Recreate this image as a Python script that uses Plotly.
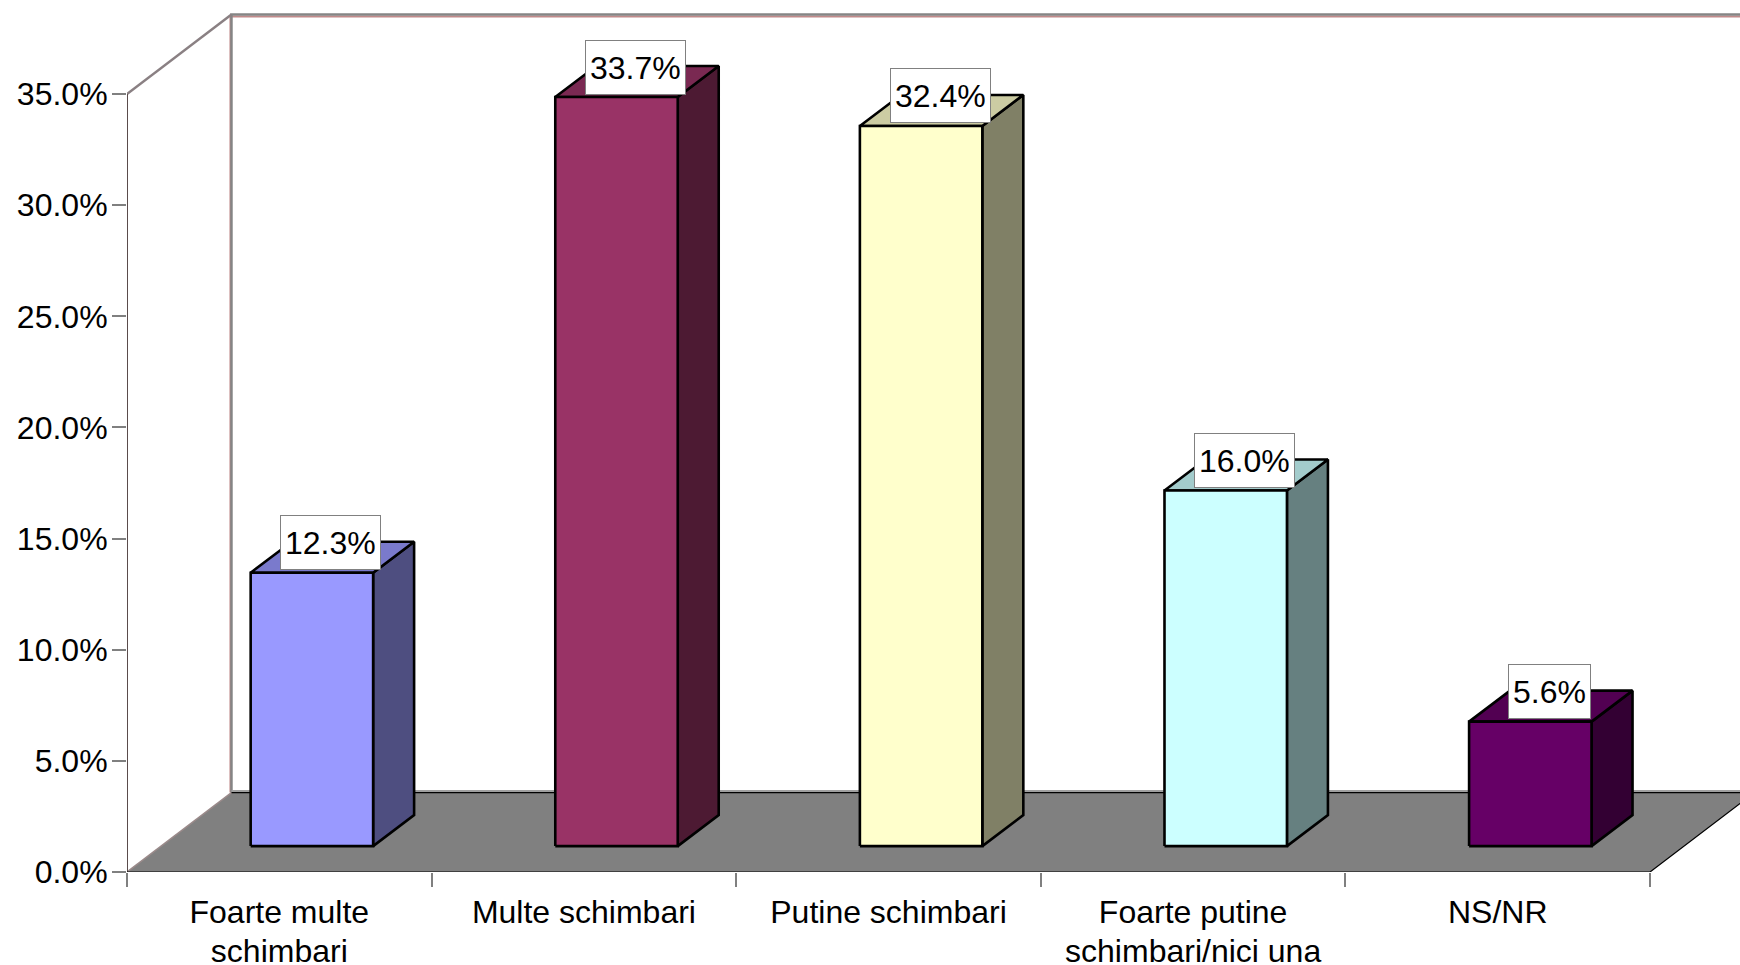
import plotly.graph_objects as go

categories = ["Foarte multe", "Multe schimbari", "Putine schimbari", "Foarte putine", "NS/NR"]
categories_line2 = ["schimbari", "", "", "schimbari/nici una", ""]
values = [12.3, 33.7, 32.4, 16.0, 5.6]
labels = ["12.3%", "33.7%", "32.4%", "16.0%", "5.6%"]
front_colors = ["#9999FF", "#993366", "#FFFFCC", "#CCFFFF", "#660066"]
side_colors = ["#4E4E80", "#4D1A33", "#808066", "#668080", "#330033"]
top_colors = ["#7A7ACC", "#7A2952", "#CCCCA3", "#A3CCCC", "#520052"]
y_ticks = [0, 5, 10, 15, 20, 25, 30, 35]
y_ticktext = ["0.0%", "5.0%", "10.0%", "15.0%", "20.0%", "25.0%", "30.0%", "35.0%"]

W, H = 1740, 965
X0, Y0 = 126.5, 872.5      # pixel of axis origin
CAT_PX, PCT_PX = 304.7, 22.24
DX, DY = 104.5 / CAT_PX, 79.5 / PCT_PX   # chart depth in axis units
BAR_L, BAR_W = 0.406, 0.402
BAR_BASE = 1.165
BAR_DX, BAR_DY = 41 / CAT_PX, 31 / PCT_PX
N = len(categories)
YMAX = 35


def poly(xs, ys, fill=None, line="black", width=1.0):
    return go.Scatter(x=xs, y=ys, mode="lines", cliponaxis=False,
                      fill="toself" if fill else None, fillcolor=fill,
                      line=dict(color=line, width=width), hoverinfo="skip",
                      showlegend=False)


fig = go.Figure()

# floor
fig.add_trace(poly([0, N, N + DX, DX, 0], [0, 0, DY, DY, 0], fill="#808080", line="rgba(0,0,0,0)", width=0))
# walls: pink underlay, gray over
px_y = 1 / PCT_PX
px_x = 1 / CAT_PX
fig.add_trace(poly([DX - px_x, DX - px_x, N + 2], [DY, YMAX + DY - 2 * px_y, YMAX + DY - 2 * px_y], line="#C08A8A", width=2))
fig.add_trace(poly([DX, DX, N + 2], [DY, YMAX + DY, YMAX + DY], line="#858585", width=2.5))
fig.add_trace(poly([DX, 0], [YMAX + DY, YMAX], line="#8A8083", width=2.5))
fig.add_trace(poly([DX, 0], [DY, 0], line="#9A8A8A", width=1.5))
fig.add_trace(poly([0, 0], [0, YMAX], line="#5A4C4C", width=2))
# floor edges
fig.add_trace(poly([DX, N + 2], [DY + 1.5 * px_y, DY + 1.5 * px_y], line="#A0A0A0", width=2))
fig.add_trace(poly([DX, N + 2], [DY, DY], line="black", width=1.2))
fig.add_trace(poly([0, N, N + DX], [0, 0, DY], line="black", width=1.2))

# bars
for i, v in enumerate(values):
    l = i + BAR_L
    r = l + BAR_W
    b = BAR_BASE
    t = b + v
    fig.add_trace(poly([r, r + BAR_DX, r + BAR_DX, r, r], [b, b + BAR_DY, t + BAR_DY, t, b], fill=side_colors[i], width=2.6))
    fig.add_trace(poly([l, l + BAR_DX, r + BAR_DX, r, l], [t, t + BAR_DY, t + BAR_DY, t, t], fill=top_colors[i], width=2.6))
    fig.add_trace(poly([l, r, r, l, l], [b, b, t, t, b], fill=front_colors[i], width=2.6))

# keeps the second label axis alive
fig.add_trace(go.Scatter(x=[0], y=[0], xaxis="x2", mode="lines", hoverinfo="skip", showlegend=False))

# value labels
for i, v in enumerate(values):
    fig.add_annotation(x=i + BAR_L + BAR_W / 2 + 19 * px_x, y=BAR_BASE + v + 30 * px_y,
                       xref="x", yref="y", text=labels[i], showarrow=False,
                       font=dict(family="Liberation Sans", size=32, color="black"),
                       bgcolor="white", bordercolor="#808080", borderwidth=1, borderpad=4,
                       height=45, valign="middle")

fig.update_layout(
    width=W, height=H, autosize=False,
    margin=dict(l=X0, r=0, t=0, b=H - Y0, pad=0),
    paper_bgcolor="white", plot_bgcolor="white",
    showlegend=False,
    font=dict(family="Liberation Sans", size=32, color="black"),
    xaxis=dict(range=[0, (W - X0) / CAT_PX], tickmode="array", automargin=False,
               tickvals=[i + 0.5 for i in range(N)], ticktext=categories,
               ticks="outside", ticklen=12, tickcolor="rgba(0,0,0,0)", showgrid=False, zeroline=False,
               showline=False,
               minor=dict(tickmode="array", tickvals=list(range(N + 1)), ticks="outside", ticklen=14,
                          tickwidth=1.5, tickcolor="#808080", showgrid=False)),
    xaxis2=dict(range=[0, (W - X0) / CAT_PX], overlaying="x", anchor="y", side="bottom", tickmode="array",
                automargin=False, tickvals=[i + 0.5 for i in range(N)], ticktext=categories_line2,
                ticks="outside", ticklen=51, tickcolor="rgba(0,0,0,0)", showgrid=False, zeroline=False,
                showline=False),
    yaxis=dict(range=[0, Y0 / PCT_PX], tickmode="array", tickvals=y_ticks, ticktext=y_ticktext, automargin=False,
               ticks="outside", ticklen=14, tickwidth=1.5, tickcolor="#808080", showgrid=False,
               ticklabelstandoff=-2, zeroline=False, showline=False),
)

fig.write_html("out.html", config=dict(displayModeBar=False),
               post_script="document.body.style.margin='0';document.body.style.overflow='hidden';")
